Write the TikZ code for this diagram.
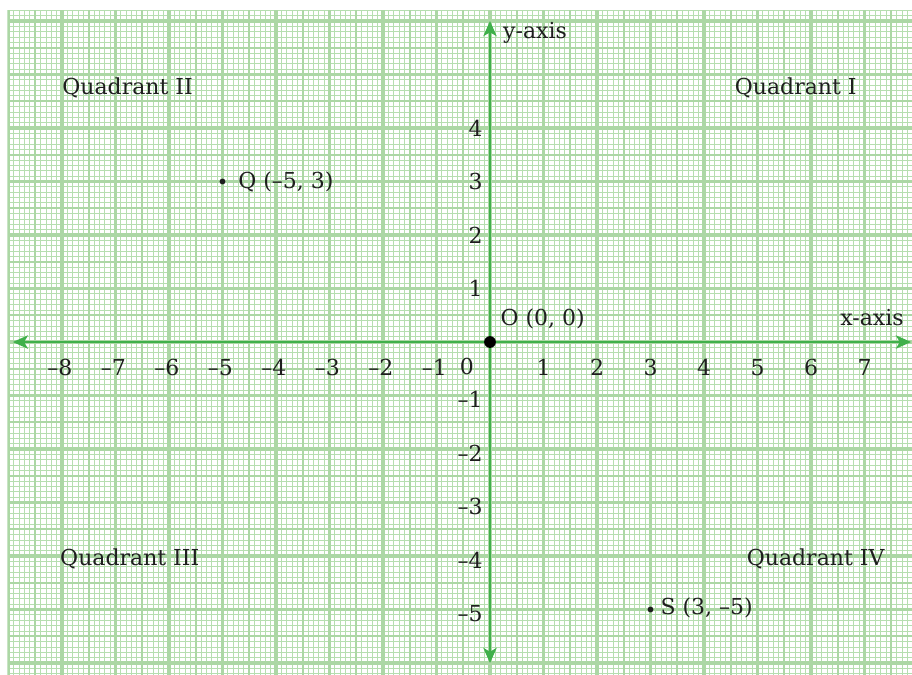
\documentclass[tikz,border=0pt]{standalone}
\usepackage{fontspec}
\setmainfont{DejaVu Serif}
\usetikzlibrary{arrows.meta}
\definecolor{gridgreen}{RGB}{172,215,165}
\definecolor{minorgreen}{RGB}{182,222,176}
\definecolor{axisgreen}{RGB}{64,176,75}
\definecolor{ink}{RGB}{30,30,30}
\begin{document}
\begin{tikzpicture}[
  font=\fontsize{11.7}{14}\selectfont,
  lbl/.style={text=ink, inner sep=0pt},
  axisline/.style={axisgreen, line width=1.4pt,
    {Stealth[length=8pt,width=7pt,inset=2pt]}-{Stealth[length=8pt,width=7pt,inset=2pt]}},
  minorgrid/.style={minorgreen, line width=0.45pt},
  midgrid/.style={gridgreen, line width=0.9pt},
  majorgrid/.style={gridgreen, line width=1.7pt},
  bigdot/.style={circle, fill=black, inner sep=0pt, minimum size=0.22cm},
  smalldot/.style={circle, fill=ink, inner sep=0pt, minimum size=0.11cm}
]
\useasboundingbox (-9.159,-6.206) rectangle (7.888,6.393);
\fill[white] (-9.159,-6.206) rectangle (7.888,6.393);
\begin{scope}
  \clip (-9.02,-6.4) rectangle (8,6.21);
  \draw[minorgrid] (-9,-6.4) grid[step=0.1] (8,6.21);
  \draw[midgrid] (-9,-6.5) grid[step=0.5] (8,6.21);
  \draw[majorgrid] (-9,-7) grid[step=1] (8,6.21);
\end{scope}
% axes
\coordinate (xl) at (-8.92,0);
\coordinate (xr) at (7.87,0);
\coordinate (yt) at (0,6.0);
\coordinate (yb) at (0,-6.0);
\draw[axisline] (xl) -- (xr);
\draw[axisline] (yb) -- (yt);
% tick labels
\foreach \x in {1,...,8} {
  \node[lbl] (xn\x) at (-\x-0.04,-0.48) {–\x};
}
\foreach \x in {1,...,7} {
  \node[lbl] (xp\x) at (\x,-0.48) {\x};
}
\foreach \y in {1,...,4} {
  \node[lbl, anchor=east] (yp\y) at (-0.13,\y) {\y};
}
\foreach \y in {1,...,5} {
  \node[lbl, anchor=east] (yn\y) at (-0.13,-\y-0.08) {–\y};
}
\node[lbl] (zero) at (-0.43,-0.45) {0};
% axis names
\node[lbl] (xname) at (7.14,0.45) {x-axis};
\node[lbl, anchor=west] (yname) at (0.24,5.78) {y-axis};
% quadrants
\node[lbl, anchor=east] (q1) at (6.86,4.75) {Quadrant I};
\node[lbl, anchor=west] (q2) at (-8.0,4.75) {Quadrant II};
\node[lbl, anchor=west] (q3) at (-8.04,-4.06) {Quadrant III};
\node[lbl, anchor=east] (q4) at (7.38,-4.06) {Quadrant IV};
% points
\node[bigdot] (O) at (0,0) {};
\node[lbl, anchor=west] (Olbl) at (0.19,0.43) {O (0, 0)};
\node[smalldot] (Q) at (-5,3) {};
\node[lbl, anchor=west] (Qlbl) at (-4.71,3) {Q (–5, 3)};
\node[smalldot] (S) at (3,-5) {};
\node[lbl, anchor=west] (Slbl) at (3.18,-4.97) {S (3, –5)};
\end{tikzpicture}
\end{document}
